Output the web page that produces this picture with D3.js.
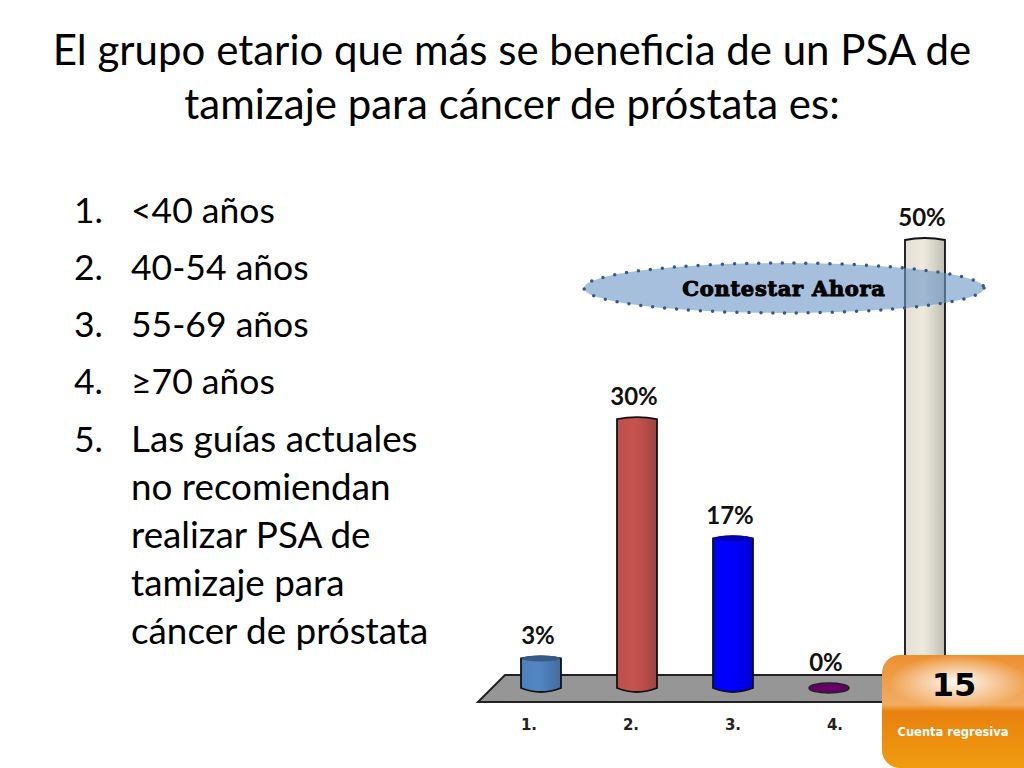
<!DOCTYPE html>
<html>
<head>
<meta charset="utf-8">
<script src="https://cdn.jsdelivr.net/npm/d3@7/dist/d3.min.js"></script>
<style>
  html, body { margin: 0; padding: 0; background: #fff; overflow: hidden; }
  svg { display: block; }
</style>
</head>
<body>
<svg id="chart" width="1024" height="768"></svg>
<script>
const titleLines = ["El grupo etario que más se beneficia de un PSA de", "tamizaje para cáncer de próstata es:"];
const optionNumbers = ["1.", "2.", "3.", "4.", "5."];
const optionLines = [
  ["<40 años"],
  ["40-54 años"],
  ["55-69 años"],
  ["≥70 años"],
  ["Las guías actuales", "no recomiendan", "realizar PSA de", "tamizaje para", "cáncer de próstata"]
];
const categories = ["1.", "2.", "3.", "4.", "5."];
const values = [3.3, 30, 16.7, 0, 50];
const valueLabels = ["3%", "30%", "17%", "0%", "50%"];
const barColors = ["#4f81bd", "#c0504d", "#0000ff", "#660066", "#e6e3d6"];

const svg = d3.select("#chart");
const defs = svg.append("defs");

const y = d3.scaleLinear().domain([0, 50]).range([688, 240]);
const x = d3.scalePoint().domain(categories).range([541, 925]);
const xLabel = d3.scalePoint().domain(categories).range([529, 937]);

// title
svg.append("g").selectAll("text").data(titleLines).join("text")
  .attr("x", 512)
  .attr("y", (d, i) => 65 + i * 54)
  .attr("text-anchor", "middle")
  .attr("font-family", "Lato")
  .attr("font-size", 42)
  .attr("fill", "#000")
  .text(d => d);

// numbered list
const itemY = [223, 280, 337, 394, 452];
const list = svg.append("g").attr("font-family", "Lato").attr("fill", "#000");
optionLines.forEach((lines, i) => {
  const size = lines.length > 1 ? 36.8 : 35.5;
  list.append("text").attr("x", 74).attr("y", itemY[i]).attr("font-size", 35.5).text(optionNumbers[i]);
  lines.forEach((line, j) => {
    list.append("text").attr("x", 131).attr("y", itemY[i] + j * 48).attr("font-size", size).text(line);
  });
});

// floor
const floor = d3.path();
floor.moveTo(478, 702);
floor.lineTo(505, 675);
floor.lineTo(1000, 675);
floor.lineTo(973, 702);
floor.closePath();
svg.append("path").attr("d", floor.toString())
  .attr("fill", "#969696").attr("stroke", "#222").attr("stroke-width", 2);

// bar gradients
barColors.forEach((c, i) => {
  const g = defs.append("linearGradient").attr("id", "bar" + i);
  const base = d3.color(c);
  g.append("stop").attr("offset", "0%").attr("stop-color", base.darker(0.05));
  g.append("stop").attr("offset", "45%").attr("stop-color", base.brighter(0.1));
  g.append("stop").attr("offset", "100%").attr("stop-color", base.darker(0.5));
});

// cylinders
const halfW = 20;
const bars = svg.append("g");
categories.forEach((c, i) => {
  const cx = x(c);
  const top = y(values[i]);
  const bottom = y(0);
  if (values[i] === 0) {
    bars.append("ellipse").attr("cx", cx).attr("cy", bottom).attr("rx", halfW).attr("ry", 5)
      .attr("fill", barColors[i]).attr("stroke", "#222").attr("stroke-width", 1.5);
    return;
  }
  const p = d3.path();
  p.moveTo(cx - halfW, top);
  p.lineTo(cx - halfW, bottom);
  p.quadraticCurveTo(cx, bottom + 8, cx + halfW, bottom);
  p.lineTo(cx + halfW, top);
  p.quadraticCurveTo(cx, top - 4, cx - halfW, top);
  p.closePath();
  bars.append("path").attr("d", p.toString())
    .attr("fill", `url(#bar${i})`).attr("stroke", "#111").attr("stroke-width", 1.8);
  // darker lid on the short and the blue cylinder
  if (i === 0 || i === 2) {
    bars.append("ellipse").attr("cx", cx).attr("cy", top).attr("rx", halfW - 1).attr("ry", 3)
      .attr("fill", d3.color(barColors[i]).darker(1));
  }
});

// value labels
svg.append("g").selectAll("text").data(categories).join("text")
  .attr("x", d => x(d) - 3)
  .attr("y", (d, i) => y(values[i]) - (values[i] === 0 ? 17 : 14))
  .attr("text-anchor", "middle")
  .attr("font-family", "Lato")
  .attr("font-weight", 700)
  .attr("font-size", 24)
  .attr("fill", "#111")
  .text((d, i) => valueLabels[i]);

// category labels, the last one sits behind the countdown box
svg.append("g").selectAll("text").data(categories.slice(0, 4)).join("text")
  .attr("x", d => xLabel(d))
  .attr("y", 730)
  .attr("text-anchor", "middle")
  .attr("font-family", "DejaVu Sans")
  .attr("font-weight", 700)
  .attr("font-size", 15)
  .attr("fill", "#222")
  .text(d => d);

// Contestar Ahora
svg.append("ellipse")
  .attr("cx", 784).attr("cy", 288).attr("rx", 200).attr("ry", 25)
  .attr("fill", "#6f97c8").attr("fill-opacity", 0.62)
  .attr("stroke", "#3a5688").attr("stroke-width", 3.5)
  .attr("stroke-linecap", "round").attr("stroke-dasharray", "0 12");
svg.append("text")
  .attr("x", 784).attr("y", 296)
  .attr("text-anchor", "middle")
  .attr("font-family", "DejaVu Serif")
  .attr("font-weight", 700)
  .attr("font-size", 21)
  .attr("letter-spacing", 0.7)
  .attr("stroke", "#000").attr("stroke-width", 1)
  .attr("fill", "#000")
  .text("Contestar Ahora");

// countdown box
const orange = defs.append("linearGradient").attr("id", "orange").attr("x2", 0).attr("y2", 1);
orange.append("stop").attr("offset", "0%").attr("stop-color", "#ec9030");
orange.append("stop").attr("offset", "44%").attr("stop-color", "#f2ac62");
orange.append("stop").attr("offset", "50%").attr("stop-color", "#e8810e");
orange.append("stop").attr("offset", "100%").attr("stop-color", "#f09c10");
const glow = defs.append("radialGradient").attr("id", "glow");
glow.append("stop").attr("offset", "0%").attr("stop-color", "#fff").attr("stop-opacity", 0.95);
glow.append("stop").attr("offset", "100%").attr("stop-color", "#fff").attr("stop-opacity", 0);

svg.append("rect")
  .attr("x", 882).attr("y", 655).attr("width", 170).attr("height", 113).attr("rx", 18)
  .attr("fill", "url(#orange)");
svg.append("ellipse")
  .attr("cx", 958).attr("cy", 682).attr("rx", 70).attr("ry", 27)
  .attr("fill", "url(#glow)");
svg.append("text")
  .attr("x", 954).attr("y", 696)
  .attr("text-anchor", "middle")
  .attr("font-family", "DejaVu Sans")
  .attr("font-weight", 700)
  .attr("font-size", 32)
  .attr("fill", "#000")
  .text("15");
svg.append("text")
  .attr("x", 953).attr("y", 736)
  .attr("text-anchor", "middle")
  .attr("font-family", "DejaVu Sans")
  .attr("font-weight", 700)
  .attr("font-size", 11.5)
  .attr("fill", "#fff")
  .text("Cuenta regresiva");
</script>
</body>
</html>
